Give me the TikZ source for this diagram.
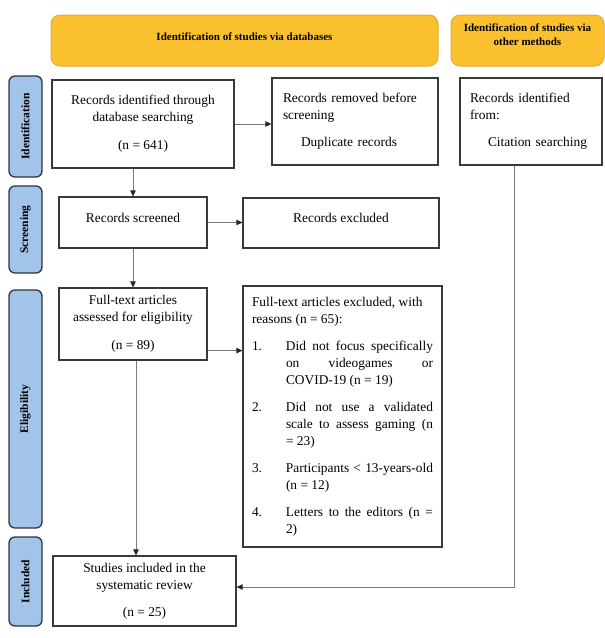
\documentclass[tikz,border=0pt]{standalone}
\usepackage{fontspec}
\setmainfont{Liberation Serif}
\usetikzlibrary{arrows.meta,calc}
\definecolor{gold}{HTML}{FBC02D}
\definecolor{goldline}{HTML}{E3AA3C}
\definecolor{tabblue}{HTML}{A2C4E9}
\definecolor{tabline}{HTML}{2E3440}
\definecolor{boxline}{HTML}{3A3A3A}
\definecolor{arrline}{HTML}{7A7A7A}
\newcommand\exitem[2]{\par\hangindent=34pt\hangafter=1\noindent\makebox[34pt][l]{#1}#2\par}
\begin{document}
\begin{tikzpicture}[x=1pt,y=-1pt,
  hdr/.style={draw=goldline,fill=gold,rounded corners=9pt,line width=1pt,font=\fontsize{11}{14}\selectfont\bfseries,align=center,inner sep=0pt},
  tab/.style={draw=tabline,fill=tabblue,rounded corners=6pt,line width=1.3pt,minimum height=33pt,inner sep=0pt,rotate=90,font=\fontsize{11.5}{13}\selectfont\bfseries},
  box/.style={draw=boxline,line width=1.2pt,inner sep=0pt,font=\fontsize{13.4}{16.8}\selectfont,align=center},
  arr/.style={draw=arrline,line width=0.9pt,-{Triangle[length=6pt,width=5.5pt,color=black!85]}}
]
\useasboundingbox (0,0) rectangle (605,638);
% headers
\node[hdr,minimum width=387pt,minimum height=51pt] (h1) at (244.5,40.5) {\raisebox{8pt}{Identification of studies via databases}};
\node[hdr,minimum width=153pt,minimum height=51pt,text depth=11pt] (h2) at (527.5,40.5) {Identification of studies via\\other methods};
% side tabs
\node[tab,minimum width=101pt] (tid) at (25.5,126.5) {Identification};
\node[tab,minimum width=87pt] (tsc) at (25.5,229.5) {Screening};
\node[tab,minimum width=238pt] (tel) at (25.5,409) {Eligibility};
\node[tab,minimum width=89pt] (tin) at (25.5,581.5) {Included};
% boxes
\node[box,minimum width=182pt,minimum height=88pt] (b1) at (143,124) {Records identified through\\database searching\\[11pt](n = 641)};
\node[box,minimum width=166pt,minimum height=87pt,text width=144pt,align=left] (rem) at (355,121.5) {Records removed before\\screening\\[10pt]\hspace*{18pt}Duplicate records};
\node[box,minimum width=142pt,minimum height=87pt,text width=122pt,align=left] (cite) at (531,121.5) {Records identified\\from:\\[10pt]\hspace*{18pt}Citation searching};
\node[box,minimum width=148pt,minimum height=51pt] (scr) at (133,222.5) {\raisebox{10pt}{Records screened}};
\node[box,minimum width=196pt,minimum height=50pt] (exc) at (341,223) {\raisebox{10pt}{Records excluded}};
\node[box,minimum width=148pt,minimum height=72pt] (ft) at (133,324) {Full-text articles\\assessed for eligibility\\[11pt](n = 89)};
\node[box,minimum width=199pt,minimum height=261pt,text width=181pt,align=justify] (exl) at (342.5,416.5) {\fontsize{13.4}{17}\selectfont\parskip=10pt\hyphenpenalty=10000
Full-text articles excluded, with\newline reasons (n = 65):\par
\exitem{1.}{Did not focus specifically\linebreak on videogames or\linebreak COVID-19 (n = 19)}
\exitem{2.}{Did not use a validated\linebreak scale to assess gaming (n\linebreak = 23)}
\exitem{3.}{Participants < 13-years-old\linebreak (n = 12)}
\exitem{4.}{Letters to the editors (n =\linebreak 2)}};
\node[box,minimum width=183pt,minimum height=70pt] (inc) at (144.5,591) {Studies included in the\\systematic review\\[10pt](n = 25)};
% connectors
\draw[arr] (b1.east) -- (b1.east -| rem.west);
\draw[arr] (b1.south -| scr.north) -- (scr.north);
\draw[arr] (scr.east) -- (scr.east -| exc.west);
\draw[arr] (scr.south) -- (ft.north);
\draw[arr] ([yshift=10pt]ft.south east) -- ([yshift=10pt]ft.south east -| exl.west);
\draw[arr] ([xshift=3pt]ft.south) -- ([xshift=3pt]ft.south |- inc.north);
\coordinate (bend) at (514,587);
\draw[arr] (bend |- cite.south) -- (bend) -- (bend -| inc.east);
\end{tikzpicture}
\end{document}
